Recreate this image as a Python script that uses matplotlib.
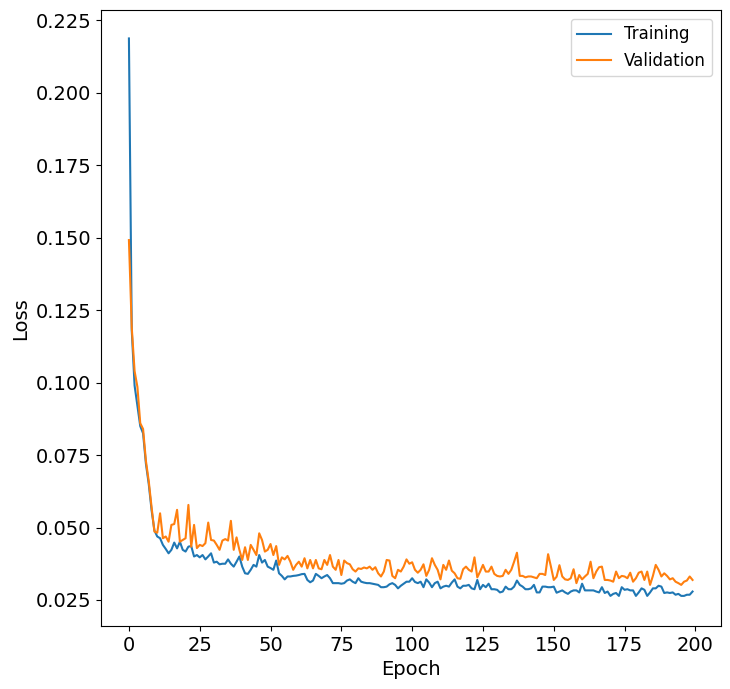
#!/usr/bin/env python3
"""
Training / validation loss curves
"""

import numpy as np
import matplotlib
matplotlib.use("Agg")
import matplotlib.pyplot as plt

# loss per epoch
train_loss = [
    0.2188, 0.1180, 0.0990, 0.0920, 0.0850, 0.0825, 0.0720, 0.0650, 0.0560, 0.0490,
    0.0469, 0.0463, 0.0440, 0.0426, 0.0411, 0.0423, 0.0448, 0.0428, 0.0451, 0.0423,
    0.0417, 0.0434, 0.0436, 0.0400, 0.0405, 0.0397, 0.0405, 0.0390, 0.0400, 0.0411,
    0.0379, 0.0382, 0.0373, 0.0375, 0.0375, 0.0390, 0.0375, 0.0365, 0.0382, 0.0400,
    0.0365, 0.0342, 0.0340, 0.0354, 0.0371, 0.0365, 0.0405, 0.0379, 0.0388, 0.0365,
    0.0360, 0.0354, 0.0386, 0.0342, 0.0333, 0.0321, 0.0331, 0.0331, 0.0333, 0.0334,
    0.0336, 0.0339, 0.0340, 0.0319, 0.0311, 0.0317, 0.0340, 0.0333, 0.0325, 0.0331,
    0.0336, 0.0325, 0.0308, 0.0308, 0.0308, 0.0306, 0.0308, 0.0317, 0.0321, 0.0313,
    0.0308, 0.0325, 0.0313, 0.0310, 0.0308, 0.0308, 0.0306, 0.0304, 0.0302, 0.0294,
    0.0294, 0.0296, 0.0304, 0.0308, 0.0302, 0.0290, 0.0299, 0.0306, 0.0313, 0.0313,
    0.0325, 0.0312, 0.0308, 0.0313, 0.0294, 0.0321, 0.0310, 0.0294, 0.0308, 0.0313,
    0.0290, 0.0296, 0.0299, 0.0296, 0.0310, 0.0321, 0.0296, 0.0290, 0.0299, 0.0299,
    0.0302, 0.0290, 0.0287, 0.0319, 0.0287, 0.0302, 0.0294, 0.0306, 0.0287, 0.0287,
    0.0285, 0.0276, 0.0279, 0.0296, 0.0287, 0.0287, 0.0296, 0.0317, 0.0302, 0.0296,
    0.0287, 0.0287, 0.0290, 0.0302, 0.0276, 0.0276, 0.0296, 0.0296, 0.0294, 0.0294,
    0.0296, 0.0275, 0.0279, 0.0283, 0.0276, 0.0271, 0.0279, 0.0283, 0.0283, 0.0276,
    0.0306, 0.0283, 0.0283, 0.0283, 0.0283, 0.0279, 0.0276, 0.0294, 0.0274, 0.0279,
    0.0264, 0.0271, 0.0274, 0.0264, 0.0294, 0.0285, 0.0287, 0.0283, 0.0283, 0.0264,
    0.0276, 0.0290, 0.0285, 0.0264, 0.0276, 0.0290, 0.0290, 0.0299, 0.0296, 0.0274,
    0.0276, 0.0274, 0.0276, 0.0268, 0.0271, 0.0264, 0.0264, 0.0268, 0.0268, 0.0279,
]

val_loss = [
    0.1492, 0.1190, 0.1040, 0.0985, 0.0860, 0.0840, 0.0730, 0.0660, 0.0570, 0.0486,
    0.0482, 0.0549, 0.0463, 0.0469, 0.0451, 0.0509, 0.0512, 0.0561, 0.0451, 0.0457,
    0.0463, 0.0578, 0.0434, 0.0509, 0.0429, 0.0440, 0.0436, 0.0446, 0.0517, 0.0457,
    0.0455, 0.0440, 0.0423, 0.0455, 0.0460, 0.0455, 0.0523, 0.0423, 0.0466, 0.0423,
    0.0388, 0.0432, 0.0388, 0.0440, 0.0423, 0.0405, 0.0480, 0.0457, 0.0417, 0.0423,
    0.0443, 0.0405, 0.0436, 0.0371, 0.0397, 0.0390, 0.0402, 0.0382, 0.0354, 0.0371,
    0.0382, 0.0365, 0.0394, 0.0359, 0.0388, 0.0359, 0.0388, 0.0359, 0.0356, 0.0388,
    0.0371, 0.0405, 0.0365, 0.0354, 0.0388, 0.0336, 0.0386, 0.0377, 0.0373, 0.0356,
    0.0348, 0.0359, 0.0357, 0.0362, 0.0359, 0.0365, 0.0354, 0.0363, 0.0342, 0.0331,
    0.0348, 0.0388, 0.0386, 0.0333, 0.0325, 0.0354, 0.0348, 0.0365, 0.0390, 0.0375,
    0.0380, 0.0354, 0.0344, 0.0354, 0.0373, 0.0333, 0.0354, 0.0394, 0.0371, 0.0354,
    0.0321, 0.0371, 0.0354, 0.0386, 0.0351, 0.0342, 0.0325, 0.0323, 0.0356, 0.0365,
    0.0354, 0.0348, 0.0397, 0.0328, 0.0348, 0.0371, 0.0348, 0.0348, 0.0365, 0.0340,
    0.0333, 0.0331, 0.0333, 0.0354, 0.0340, 0.0354, 0.0382, 0.0413, 0.0333, 0.0333,
    0.0328, 0.0331, 0.0331, 0.0328, 0.0325, 0.0340, 0.0340, 0.0336, 0.0408, 0.0365,
    0.0319, 0.0330, 0.0370, 0.0331, 0.0321, 0.0319, 0.0325, 0.0356, 0.0308, 0.0336,
    0.0321, 0.0331, 0.0340, 0.0382, 0.0325, 0.0348, 0.0363, 0.0365, 0.0319, 0.0319,
    0.0317, 0.0313, 0.0348, 0.0325, 0.0333, 0.0331, 0.0325, 0.0344, 0.0313, 0.0325,
    0.0344, 0.0348, 0.0319, 0.0348, 0.0302, 0.0333, 0.0371, 0.0354, 0.0331, 0.0342,
    0.0333, 0.0321, 0.0325, 0.0313, 0.0308, 0.0302, 0.0313, 0.0317, 0.0331, 0.0319,
]

series_labels = ["Training", "Validation"]


def main():
    epochs = np.arange(len(train_loss))

    fig = plt.figure(figsize=(7.3, 6.89), dpi=100)
    ax = fig.add_axes([0.138, 0.0914, 0.8493, 0.8936])

    ax.plot(epochs, train_loss, color="#1f77b4", linewidth=1.5, label=series_labels[0])
    ax.plot(epochs, val_loss, color="#ff7f0e", linewidth=1.5, label=series_labels[1])

    ax.set_xlim(-9.95, 208.95)
    ax.set_ylim(0.0160, 0.2285)
    ax.set_xticks([0, 25, 50, 75, 100, 125, 150, 175, 200])
    ax.set_yticks([0.025, 0.050, 0.075, 0.100, 0.125, 0.150, 0.175, 0.200, 0.225])

    ax.set_xlabel("Epoch", fontsize=14)
    ax.set_ylabel("Loss", fontsize=14)
    ax.tick_params(axis="both", labelsize=14)
    ax.legend(loc="upper right", fontsize=12)

    fig.savefig("out.png", dpi=100)


if __name__ == "__main__":
    main()
